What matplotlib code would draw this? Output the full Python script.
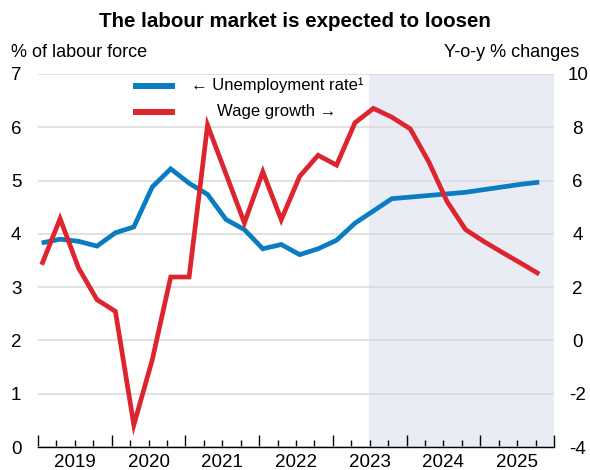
import numpy as np
import matplotlib
matplotlib.use('Agg')
import matplotlib.pyplot as plt
from matplotlib.ticker import MultipleLocator, FuncFormatter

plt.rcParams.update({
    'font.family': ['Liberation Sans', 'DejaVu Sans'],
    'font.size': 13,
    'axes.unicode_minus': False,
})

# quarterly observations / forecasts, 2019 Q1 to 2025 Q4
start_year = 2019
n_quarters = 28
unemployment = [3.83, 3.90, 3.86, 3.77, 4.02, 4.13, 4.88, 5.22, 4.95, 4.74,
                4.27, 4.08, 3.72, 3.80, 3.61, 3.72, 3.88, 4.20, 4.43, 4.66,
                4.69, 4.72, 4.75, 4.78, 4.83, 4.88, 4.93, 4.97]
wage_growth = [2.84, 4.57, 2.72, 1.53, 1.09, -3.17, -0.73, 2.38, 2.38, 8.08,
               6.25, 4.41, 6.33, 4.53, 6.16, 6.95, 6.58, 8.17, 8.71, 8.38,
               7.94, 6.71, 5.21, 4.16, 3.71, 3.30, 2.90, 2.49]
forecast_start = 2023.49
years = list(range(2019, 2026))

title = "The labour market is expected to loosen"
left_label = "% of labour force"
right_label = "Y-o-y % changes"
unemp_label = "\u2190 Unemployment rate\u00b9"
wage_label = "Wage growth \u2192"

BLUE = '#0a7cc1'
RED = '#dd2530'
SHADE = '#e9ecf5'
GRID = '#d9d9d9'

x = start_year + 0.05 + np.arange(n_quarters) * 0.25

fig = plt.figure(figsize=(5.9, 4.7), dpi=100)
ax = fig.add_axes([38 / 590, 23 / 470, 516 / 590, 373 / 470])
ax2 = ax.twinx()

ax.axvspan(forecast_start, years[-1] + 1, color=SHADE, lw=0, zorder=0)
ax.plot(x, unemployment, color=BLUE, lw=3.4, solid_capstyle='butt', solid_joinstyle='miter', zorder=3)
ax2.plot(x, wage_growth, color=RED, lw=3.4, solid_capstyle='butt', solid_joinstyle='miter', zorder=3)

ax.set_xlim(years[0], years[-1] + 1)
ax.set_ylim(0, 7)
ax2.set_ylim(-4, 10)
ax.set_yticks(range(0, 8))
ax2.set_yticks(range(-4, 11, 2))

# gridlines from the left scale
ax.set_axisbelow(True)
ax.yaxis.grid(True, color=GRID, lw=1.1)
ax.xaxis.grid(False)

for a in (ax, ax2):
    for s in ('top', 'left', 'right', 'bottom'):
        a.spines[s].set_visible(False)
ax.spines['bottom'].set_visible(True)
ax.spines['bottom'].set_linewidth(1.0)

# year ticks: long at year boundaries, short at quarters, label in the middle
ax.xaxis.set_major_locator(MultipleLocator(1))
ax.xaxis.set_major_formatter(FuncFormatter(lambda v, p: ''))
ax.xaxis.set_minor_locator(MultipleLocator(0.25))
ax.xaxis.set_minor_formatter(FuncFormatter(
    lambda v, p: str(int(v)) if abs(v % 1 - 0.5) < 1e-6 and int(v) in years else ''))
ax.tick_params(axis='x', which='major', direction='in', length=9, width=1, color='black')
ax.tick_params(axis='x', which='minor', direction='in', length=5, width=1, color='black',
               pad=5, labelsize=13.5)

ax.tick_params(axis='y', length=0, pad=12, labelsize=13.5)
ax2.tick_params(axis='y', length=0, pad=17, labelsize=13.5)
for t in ax2.get_yticklabels():
    t.set_horizontalalignment('center')

# legend drawn by hand so that the labels sit centred
leg_rows = [(BLUE, unemp_label, 0.969), (RED, wage_label, 0.899)]
for color, label, yy in leg_rows:
    ax.plot([95 / 516, 137 / 516], [yy, yy], color=color, lw=4.3,
            solid_capstyle='butt', transform=ax.transAxes, zorder=5)
    ax.text(239 / 516, yy, label, transform=ax.transAxes, ha='center', va='center',
            fontsize=12, zorder=5)

fig.text(0.5, 1 - 27 / 470, title, ha='center', va='baseline', fontsize=14.8, fontweight='bold')
fig.text(11 / 590, 1 - 57 / 470, left_label, ha='left', va='baseline', fontsize=13)
fig.text(579 / 590, 1 - 57 / 470, right_label, ha='right', va='baseline', fontsize=13)

fig.savefig('out.png', dpi=100)
plt.close(fig)
